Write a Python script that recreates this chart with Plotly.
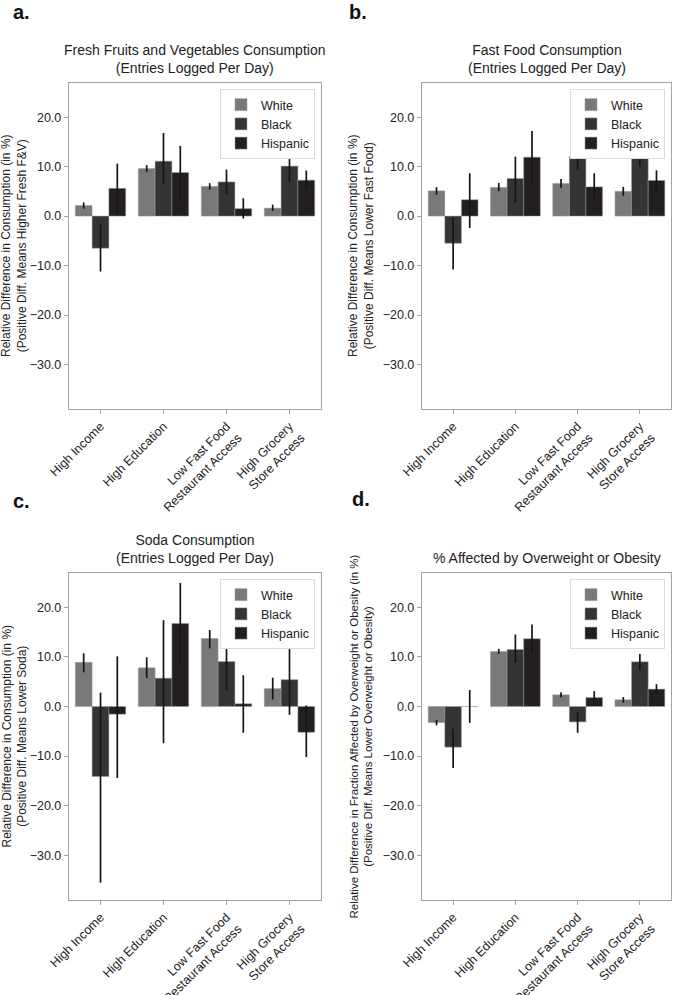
import plotly.graph_objects as go

W, H = 675, 995

categories = ["High Income", "High Education", "Low Fast Food<br>Restaurant Access", "High Grocery<br>Store Access"]
groups = ["White", "Black", "Hispanic"]

# Panel a: Fresh fruits & vegetables
a_mean = {"White": [2.15, 9.6, 6.0, 1.6], "Black": [-6.5, 11.1, 6.9, 10.1], "Hispanic": [5.6, 8.8, 1.5, 7.25]}
a_lo = {"White": [1.5, 8.9, 5.35, 1.0], "Black": [-11.2, 6.4, 4.4, 6.9], "Hispanic": [0.6, 3.4, -0.5, 5.3]}
a_hi = {"White": [2.75, 10.3, 6.65, 2.3], "Black": [-1.7, 16.8, 9.4, 13.2], "Hispanic": [10.6, 14.2, 3.6, 9.2]}

# Panel b: Fast food
b_mean = {"White": [5.1, 5.8, 6.6, 5.0], "Black": [-5.5, 7.6, 12.0, 12.6], "Hispanic": [3.3, 11.9, 5.9, 7.2]}
b_lo = {"White": [4.3, 5.0, 5.7, 4.1], "Black": [-10.8, 2.7, 9.3, 10.0], "Hispanic": [-2.4, 6.6, 3.2, 5.1]}
b_hi = {"White": [5.85, 6.7, 7.5, 5.9], "Black": [-0.2, 12.0, 14.7, 15.2], "Hispanic": [8.65, 17.2, 8.65, 9.25]}

# Panel c: Soda
c_mean = {"White": [8.9, 7.8, 13.7, 3.6], "Black": [-14.1, 5.7, 9.05, 5.4], "Hispanic": [-1.55, 16.7, 0.55, -5.2]}
c_lo = {"White": [6.9, 5.7, 11.7, 1.4], "Black": [-35.5, -7.4, 3.2, -1.7], "Hispanic": [-14.4, 8.5, -5.3, -10.2]}
c_hi = {"White": [10.7, 9.9, 15.4, 5.8], "Black": [2.8, 17.4, 15.0, 11.9], "Hispanic": [10.1, 24.9, 6.3, 0.2]}

# Panel d: Overweight / obesity
d_mean = {"White": [-3.25, 11.1, 2.35, 1.35], "Black": [-8.2, 11.5, -3.1, 9.0], "Hispanic": [0.0, 13.65, 1.8, 3.5]}
d_lo = {"White": [-3.8, 10.6, 1.85, 0.8], "Black": [-12.4, 8.8, -5.3, 7.3], "Hispanic": [-3.3, 10.8, 0.5, 2.5]}
d_hi = {"White": [-2.7, 11.6, 2.85, 1.9], "Black": [-4.5, 14.5, -1.1, 10.6], "Hispanic": [3.3, 16.5, 3.1, 4.5]}

titles = [
    "Fresh Fruits and Vegetables Consumption<br>(Entries Logged Per Day)",
    "Fast Food Consumption<br>(Entries Logged Per Day)",
    "Soda Consumption<br>(Entries Logged Per Day)",
    "% Affected by Overweight or Obesity",
]
ytitles = [
    "Relative Difference in Consumption (in %)<br>(Positive Diff. Means Higher Fresh F&V)",
    "Relative Difference in Consumption (in %)<br>(Positive Diff. Means Lower Fast Food)",
    "Relative Difference in Consumption (in %)<br>(Positive Diff. Means Lower Soda)",
    "Relative Difference in Fraction Affected by Overweight or Obesity (in %)<br>(Positive Diff. Means Lower Overweight or Obesity)",
]
panel_labels = ["a.", "b.", "c.", "d."]
yticks = [-30, -20, -10, 0, 10, 20]

colors = {"White": "#79797c", "Black": "#343437", "Hispanic": "#231f20"}
FONT = "Liberation Sans, Arial, Helvetica, sans-serif"

# pixel boxes (left, right, top, bottom)
boxes = [(69, 321, 83, 409), (422, 671, 83, 409), (69, 321, 573, 900), (422, 671, 573, 900)]
ytitle_x = [14, 361, 14, 361]
ytitle_size = [12, 12, 12, 11.5]
label_pos = [(11, 12), (347, 12), (11, 501), (350, 499)]

panels = [(a_mean, a_lo, a_hi), (b_mean, b_lo, b_hi), (c_mean, c_lo, c_hi), (d_mean, d_lo, d_hi)]

fig = go.Figure()
annotations = []
layout = {}
for i, (mean, lo, hi) in enumerate(panels):
    n = "" if i == 0 else str(i + 1)
    lg = "legend" + n
    for g in groups:
        m = mean[g]
        fig.add_trace(go.Bar(
            x=categories, y=m, name=g,
            xaxis="x" + n, yaxis="y" + n, legend=lg,
            marker=dict(color=colors[g], line=dict(color="#9a9a9a", width=0.5)),
            error_y=dict(type="data", symmetric=False,
                         array=[h - v for h, v in zip(hi[g], m)],
                         arrayminus=[v - l for v, l in zip(m, lo[g])],
                         color="#151515", thickness=1.7, width=0),
        ))
    l, r, t, b = boxes[i]
    axline = dict(showline=True, linecolor="#a3a3a3", linewidth=1.4, mirror=True,
                  ticks="outside", ticklen=4, tickcolor="#a3a3a3", showgrid=False,
                  zeroline=False, automargin=False,
                  tickfont=dict(family=FONT, size=12.5, color="#222"))
    layout["xaxis" + n] = dict(domain=[l / W, r / W], anchor="y" + n, range=[-0.5, 3.5],
                               tickangle=-45, type="category", **axline)
    layout["yaxis" + n] = dict(domain=[1 - b / H, 1 - t / H], anchor="x" + n, range=[-39, 26.9],
                               tickvals=yticks, tickformat=".1f", **axline)
    layout[lg] = dict(x=(r - 6) / W, y=1 - (t + 6) / H, xanchor="right", yanchor="top",
                      bgcolor="white", bordercolor="#dddddd", borderwidth=1,
                      font=dict(family=FONT, size=12.5, color="#222"),
                      itemwidth=30, tracegroupgap=0)
    annotations.append(dict(text=titles[i], x=(l + r) / 2 / W, y=1 - (t - 5) / H,
                            xref="paper", yref="paper", xanchor="center", yanchor="bottom",
                            showarrow=False, font=dict(family=FONT, size=14, color="#222")))
    annotations.append(dict(text=ytitles[i], x=ytitle_x[i] / W, y=1 - (t + b) / 2 / H,
                            xref="paper", yref="paper", xanchor="center", yanchor="middle",
                            textangle=-90, showarrow=False,
                            font=dict(family=FONT, size=ytitle_size[i], color="#222")))
    px, py = label_pos[i]
    annotations.append(dict(text="<b>" + panel_labels[i] + "</b>", x=px / W, y=1 - py / H,
                            xref="paper", yref="paper", xanchor="left", yanchor="middle",
                            showarrow=False, font=dict(family=FONT, size=20, color="#111")))

fig.update_layout(
    width=W, height=H, margin=dict(l=0, r=0, t=0, b=0, autoexpand=False),
    paper_bgcolor="white", plot_bgcolor="white",
    barmode="group", bargap=0.2, bargroupgap=0,
    annotations=annotations, **layout,
)
fig.write_html(
    "out.html",
    config={"displayModeBar": False},
    post_script="document.body.style.margin='0';document.body.style.overflow='hidden';"
                "document.documentElement.style.overflow='hidden';",
)
